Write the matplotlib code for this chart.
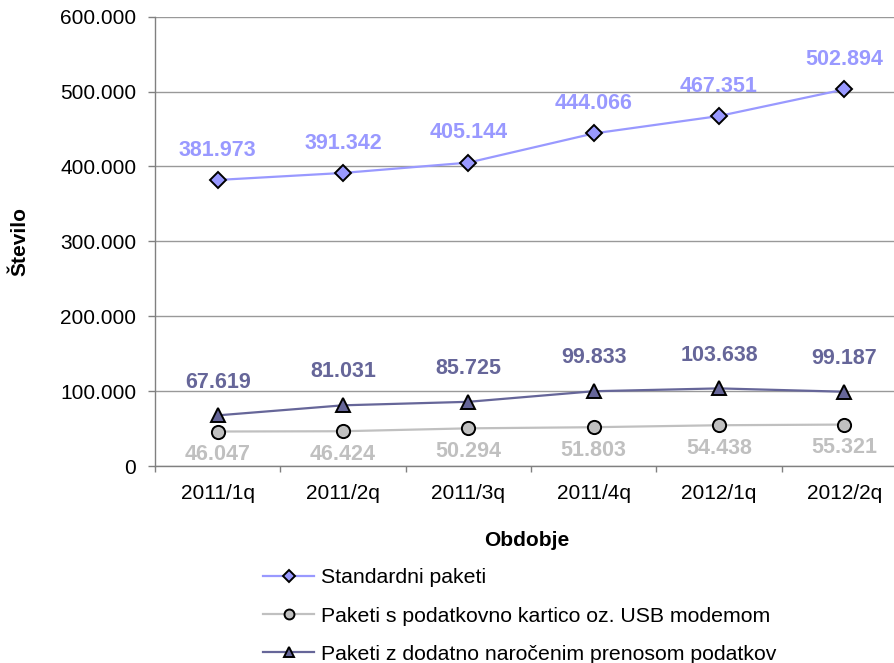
import matplotlib
matplotlib.use("Agg")
import matplotlib.pyplot as plt
from matplotlib.ticker import FuncFormatter

categories = ["2011/1q", "2011/2q", "2011/3q", "2011/4q", "2012/1q", "2012/2q"]
standard = [381973, 391342, 405144, 444066, 467351, 502894]
usb = [46047, 46424, 50294, 51803, 54438, 55321]
dodatno = [67619, 81031, 85725, 99833, 103638, 99187]
labels = ["Standardni paketi",
          "Paketi s podatkovno kartico oz. USB modemom",
          "Paketi z dodatno naročenim prenosom podatkov"]

plt.rcParams['font.family'] = ['Liberation Sans', 'DejaVu Sans']

fig = plt.figure(figsize=(8.95, 6.63), dpi=100)
ax = fig.add_axes([155/895, 1-466/663, (907-155)/895, (466-16.7)/663])

x = list(range(len(categories)))
c_std, c_usb, c_dod = "#9999FF", "#C0C0C0", "#666699"

ax.plot(x, standard, color=c_std, lw=1.6, marker='D', ms=8.5, mfc=c_std, mec='black', mew=1.4, label=labels[0], zorder=3)
ax.plot(x, usb, color=c_usb, lw=1.6, marker='o', ms=9.5, mfc=c_usb, mec='black', mew=1.4, label=labels[1], zorder=3)
ax.plot(x, dodatno, color=c_dod, lw=1.6, marker='^', ms=10, mfc=c_dod, mec='black', mew=1.4, label=labels[2], zorder=3)

fmt = lambda v: f"{v:,}".replace(",", ".")
for xi, v in zip(x, standard):
    ax.annotate(fmt(v), (xi, v), xytext=(0, 21.5), textcoords='offset points', ha='center', va='center',
                color=c_std, fontsize=15.5, fontweight='bold')
for xi, v in zip(x, usb):
    ax.annotate(fmt(v), (xi, v), xytext=(0, -16.5), textcoords='offset points', ha='center', va='center',
                color=c_usb, fontsize=15.5, fontweight='bold')
for xi, v in zip(x, dodatno):
    ax.annotate(fmt(v), (xi, v), xytext=(0, 24), textcoords='offset points', ha='center', va='center',
                color=c_dod, fontsize=15.5, fontweight='bold')

ax.set_ylim(0, 600000)
ax.set_xlim(-0.5, len(categories) - 0.5)
ax.set_yticks(range(0, 600001, 100000))
ax.yaxis.set_major_formatter(FuncFormatter(lambda v, p: "0" if v == 0 else fmt(int(v))))
ax.set_xticks(x)
ax.set_xticklabels(categories)
ax.set_xticks([i - 0.5 for i in range(len(categories) + 1)], minor=True)
ax.tick_params(axis='x', which='major', length=0, pad=13, labelsize=15)
ax.tick_params(axis='x', which='minor', length=4, color='#808080', width=1)
ax.tick_params(axis='y', length=5, color='#808080', width=1, pad=8.5, labelsize=15)

ax.grid(axis='y', color='#999999', lw=1)
ax.set_axisbelow(True)
for s in ['top', 'right']:
    ax.spines[s].set_visible(False)
for s in ['left', 'bottom']:
    ax.spines[s].set_color('#808080')
    ax.spines[s].set_linewidth(1)

ax.set_ylabel("Število", fontsize=15, fontweight='bold', va='center')
ax.yaxis.set_label_coords(-0.18, 0.5)
ax.set_xlabel("Obdobje", fontsize=15, fontweight='bold', va='center')
ax.xaxis.set_label_coords(0.495, -0.165)

fig.legend(loc='center left', bbox_to_anchor=(263/895, 47/663), frameon=False,
           fontsize=15.3, handlelength=2.4, handletextpad=0.35, labelspacing=0.9,
           borderpad=0, borderaxespad=0, markerscale=0.75)

fig.savefig("out.png", dpi=100)
